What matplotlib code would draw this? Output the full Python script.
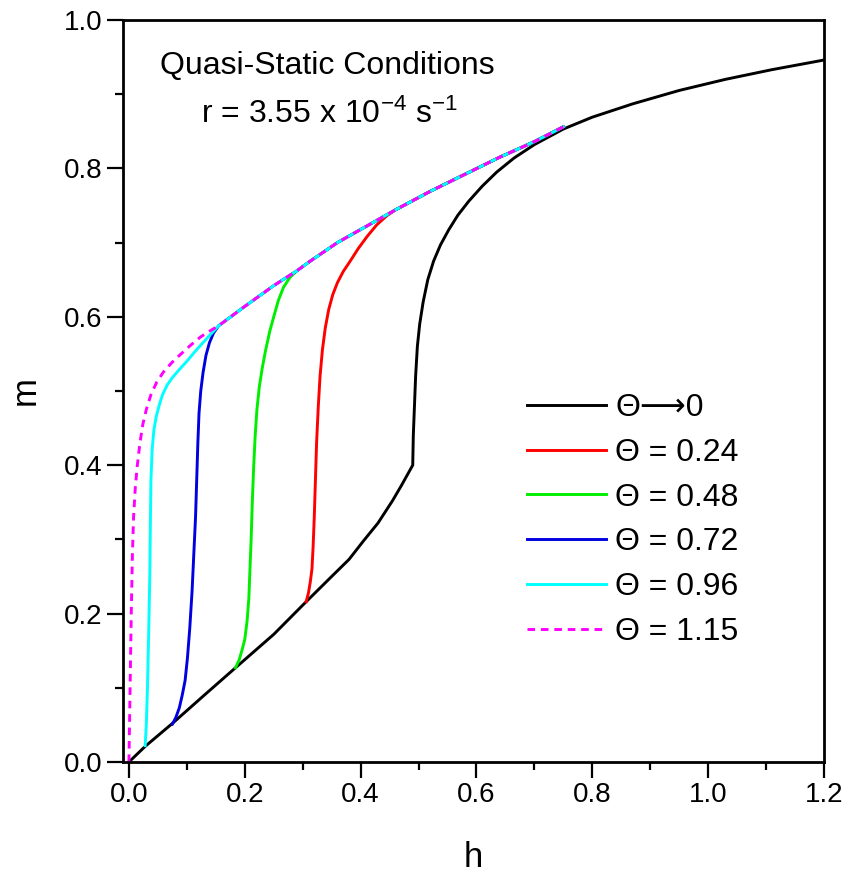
import numpy as np
import matplotlib
matplotlib.use("Agg")
import matplotlib.pyplot as plt

plt.rcParams['font.family'] = ['Liberation Sans', 'DejaVu Sans']
plt.rcParams['mathtext.fontset'] = 'custom'
plt.rcParams['mathtext.rm'] = 'Liberation Sans'
plt.rcParams['mathtext.it'] = 'Liberation Sans'

# Theta -> 0 (reference curve)
black_h = [0, 0.028, 0.075, 0.13, 0.184, 0.25, 0.306, 0.35, 0.38, 0.405, 0.43, 0.455,
           0.47, 0.48, 0.49, 0.491, 0.493, 0.495, 0.498, 0.502, 0.508, 0.516, 0.526,
           0.538, 0.552, 0.568, 0.587, 0.61, 0.635, 0.665, 0.70, 0.75, 0.80, 0.87,
           0.95, 1.03, 1.11, 1.2]
black_m = [0, 0.021, 0.052, 0.09, 0.127, 0.172, 0.216, 0.25, 0.273, 0.298, 0.322, 0.352,
           0.372, 0.386, 0.40, 0.44, 0.48, 0.52, 0.56, 0.59, 0.62, 0.65, 0.675,
           0.697, 0.717, 0.737, 0.756, 0.776, 0.795, 0.814, 0.832, 0.853, 0.869, 0.887,
           0.905, 0.92, 0.933, 0.946]

# common upper branch that the finite-Theta curves end on
env_h = np.array([0.155, 0.2, 0.25, 0.29, 0.313, 0.36, 0.41, 0.46, 0.52, 0.58, 0.64, 0.70, 0.75])
env_m = np.array([0.588, 0.614, 0.642, 0.662, 0.675, 0.70, 0.722, 0.744, 0.769, 0.792, 0.815, 0.836, 0.856])

red_h = [0.306, 0.310, 0.313, 0.316, 0.318, 0.320, 0.322, 0.324, 0.327, 0.330, 0.334,
         0.339, 0.345, 0.352, 0.36, 0.37, 0.382, 0.396, 0.411, 0.428, 0.445, 0.46]
red_m = [0.216, 0.228, 0.242, 0.26, 0.29, 0.33, 0.38, 0.43, 0.48, 0.52, 0.555,
         0.585, 0.61, 0.63, 0.646, 0.661, 0.675, 0.692, 0.708, 0.724, 0.736, 0.744]

green_h = [0.184, 0.19, 0.195, 0.200, 0.204, 0.207, 0.209, 0.211, 0.213, 0.2155, 0.218,
           0.221, 0.225, 0.23, 0.236, 0.243, 0.25, 0.258, 0.267, 0.278, 0.29]
green_m = [0.127, 0.137, 0.15, 0.165, 0.19, 0.22, 0.26, 0.30, 0.35, 0.40, 0.44,
           0.475, 0.505, 0.53, 0.555, 0.58, 0.60, 0.622, 0.64, 0.653, 0.662]

blue_h = [0.075, 0.081, 0.087, 0.092, 0.097, 0.101, 0.105, 0.109, 0.112, 0.115, 0.117,
          0.119, 0.121, 0.124, 0.128, 0.133, 0.139, 0.146, 0.155]
blue_m = [0.051, 0.06, 0.073, 0.09, 0.11, 0.14, 0.18, 0.23, 0.28, 0.33, 0.38,
          0.43, 0.47, 0.50, 0.525, 0.548, 0.565, 0.578, 0.588]

cyan_h = [0.028, 0.030, 0.032, 0.034, 0.036, 0.037, 0.038, 0.040, 0.043, 0.047, 0.052,
          0.058, 0.066, 0.075, 0.086, 0.1, 0.115, 0.13, 0.143, 0.155]
cyan_m = [0.022, 0.05, 0.10, 0.17, 0.25, 0.32, 0.38, 0.42, 0.447, 0.465, 0.48,
          0.495, 0.508, 0.518, 0.528, 0.54, 0.554, 0.567, 0.578, 0.588]

mag_h = [0, 0.002, 0.004, 0.006, 0.008, 0.011, 0.0145, 0.019, 0.024, 0.03, 0.038,
         0.048, 0.06, 0.075, 0.09, 0.107, 0.124, 0.14, 0.155]
mag_m = [0, 0.1, 0.2, 0.28, 0.33, 0.37, 0.40, 0.43, 0.455, 0.475, 0.495,
         0.512, 0.526, 0.539, 0.55, 0.562, 0.573, 0.581, 0.588]

labels = ["\u0398\u27f60", "\u0398 = 0.24", "\u0398 = 0.48", "\u0398 = 0.72",
          "\u0398 = 0.96", "\u0398 = 1.15"]


def with_env(h, m):
    # continue a curve along the upper branch after it joins it
    keep = env_h > h[-1]
    return np.concatenate([h, env_h[keep]]), np.concatenate([m, env_m[keep]])


fig = plt.figure(figsize=(8.51, 8.8), dpi=100)
ax = fig.add_axes([0.1445, 0.1341, 0.8237, 0.8432])

lw = 2.1
ax.plot(black_h, black_m, color="black", lw=lw, label=labels[0])
ax.plot(*with_env(red_h, red_m), color="#ff0000", lw=lw, label=labels[1])
ax.plot(*with_env(green_h, green_m), color="#00ee00", lw=lw, label=labels[2])
ax.plot(*with_env(blue_h, blue_m), color="#0000e0", lw=lw, label=labels[3])
ax.plot(*with_env(cyan_h, cyan_m), color="#00ffff", lw=lw, label=labels[4])
ax.plot(*with_env(mag_h, mag_m), color="#ff00ff", lw=lw, ls=(0, (2.6, 2.0)), label=labels[5])

ax.set_xlim(-0.0103, 1.2)
ax.set_ylim(0, 1.0)
ax.set_xticks(np.arange(0, 1.21, 0.2))
ax.set_xticks(np.arange(0.1, 1.2, 0.2), minor=True)
ax.set_yticks(np.arange(0, 1.01, 0.2))
ax.set_yticks(np.arange(0.1, 1.0, 0.2), minor=True)
ax.set_xticklabels([f"{v:.1f}" for v in np.arange(0, 1.21, 0.2)])
ax.set_yticklabels([f"{v:.1f}" for v in np.arange(0, 1.01, 0.2)])

for t in ax.get_xticklabels() + ax.get_yticklabels():
    t.set_fontsize(20)

ax.tick_params(which="major", direction="out", length=11.5, width=1.6, pad=3)
ax.tick_params(which="minor", direction="out", length=5.8, width=1.6)
ax.tick_params(top=False, right=False)
for s in ax.spines.values():
    s.set_linewidth(2.0)

ax.set_xlabel("h", fontsize=25, labelpad=24)
ax.set_ylabel("m", fontsize=25, labelpad=16)

ax.text(0.291, 0.938, "Quasi-Static Conditions", transform=ax.transAxes,
        fontsize=23, ha="center", va="center")
ax.text(0.295, 0.873, r"r = 3.55 x 10$^{-4}$ s$^{-1}$", transform=ax.transAxes,
        fontsize=23, ha="center", va="center")

ax.legend(loc="upper left", bbox_to_anchor=(0.577, 0.497), frameon=False,
          fontsize=23, handlelength=2.45, handletextpad=0.3, labelspacing=0.46,
          borderpad=0, borderaxespad=0)

fig.savefig("out.png", dpi=100)
